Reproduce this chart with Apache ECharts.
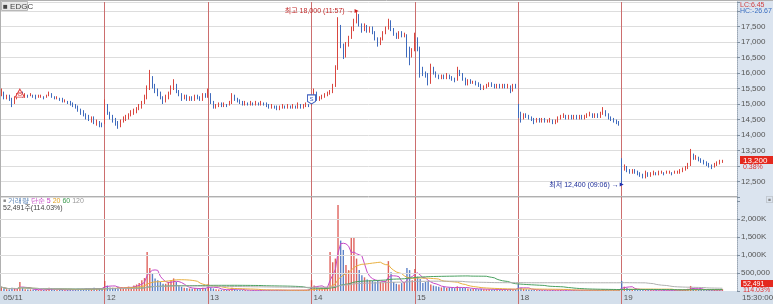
<!DOCTYPE html>
<html><head><meta charset="utf-8">
<script src="https://cdn.jsdelivr.net/npm/echarts@6/dist/echarts.min.js"></script>
<style>html,body{margin:0;padding:0;background:#fff}#c{width:773px;height:304px}</style>
</head><body><div id="c"></div>
<script>
const days = ['05/11','12','13','14','15','18','19'];
const slotsPerDay = 39;
const open = [
15300,15350,15200,15250,15150,15000,15200,15300,15350,15250,15300,15250,15300,15250,15200,15250,15250,15200,15250,15350,15250,15200,15200,15150,15100,15100,15050,15000,14950,14900,14800,14750,14650,14600,14500,14550,14400,14450,14350,
14400,14950,14700,14600,14500,14400,14300,14450,14500,14550,14650,14700,14750,14850,14900,15050,15200,15500,15800,15600,15450,15350,15200,15100,15200,15350,15500,15600,15400,15300,15200,15250,15150,15200,15150,15250,15200,15150,15300,
15250,15300,15050,14900,14950,15000,14950,15000,14950,15050,15300,15150,15100,15050,15000,15050,15000,15050,15000,15050,15000,15050,15000,14950,14900,14950,14900,14850,14900,14950,14900,14950,14900,14950,14900,15000,14900,14950,15000,
14950,15150,15400,15150,15200,15250,15300,15350,15400,15600,16150,17500,16900,16550,16900,17150,17400,17650,17850,17550,17400,17500,17350,17450,17300,17100,16950,17100,17300,17450,17650,17400,17250,17150,17300,17200,17250,16800,16550,
16750,17100,16800,16100,16000,15950,15650,16150,16000,15900,15850,15900,15850,15950,15850,15800,15750,16050,15950,15800,15650,15750,15700,15700,15650,15600,15500,15550,15600,15650,15600,15550,15600,15550,15600,15550,15600,15450,15600,
14900,14700,14550,14650,14600,14550,14500,14450,14500,14450,14500,14450,14450,14500,14400,14450,14550,14600,14650,14550,14600,14550,14600,14550,14600,14550,14600,14650,14700,14600,14650,14600,14700,14800,14650,14550,14500,14450,14400,
13100,12900,12950,12850,12800,12850,12800,12750,12700,12650,12800,12700,12750,12800,12750,12800,12800,12750,12800,12800,12750,12800,12800,12850,12900,12950,13050,13350,13250,13300,13200,13150,13100,13050,13000,12950,13050,13100,13150
];
const close = [
15350,15200,15250,15150,15000,15200,15300,15350,15250,15300,15250,15300,15250,15200,15250,15250,15200,15250,15350,15250,15200,15200,15150,15100,15100,15050,15000,14950,14900,14800,14750,14650,14600,14500,14550,14400,14450,14350,14300,
14950,14700,14600,14500,14400,14300,14450,14500,14550,14650,14700,14750,14850,14900,15050,15200,15500,15800,15600,15450,15350,15200,15100,15200,15350,15500,15600,15400,15300,15200,15250,15150,15200,15150,15250,15200,15150,15300,15250,
15300,15050,14900,14950,15000,14950,15000,14950,15050,15300,15150,15100,15050,15000,15050,15000,15050,15000,15050,15000,15050,15000,14950,14900,14950,14900,14850,14900,14950,14900,14950,14900,14950,14900,15000,14900,14950,15000,14950,
15150,15400,15150,15200,15250,15300,15350,15400,15600,16150,17500,16900,16550,16900,17150,17400,17650,17850,17550,17400,17500,17350,17450,17300,17100,16950,17100,17300,17450,17650,17400,17250,17150,17300,17200,17250,16800,16550,16700,
17100,16800,16100,16000,15950,15650,16150,16000,15900,15850,15900,15850,15950,15850,15800,15750,16050,15950,15800,15650,15750,15700,15700,15650,15600,15500,15550,15600,15650,15600,15550,15600,15550,15600,15550,15600,15450,15600,15550,
14700,14550,14650,14600,14550,14500,14450,14500,14450,14500,14450,14450,14500,14400,14450,14550,14600,14650,14550,14600,14550,14600,14550,14600,14550,14600,14650,14700,14600,14650,14600,14700,14800,14650,14550,14500,14450,14400,14350,
12900,12950,12850,12800,12850,12800,12750,12700,12650,12800,12700,12750,12800,12750,12800,12800,12750,12800,12800,12750,12800,12800,12850,12900,12950,13050,13350,13250,13300,13200,13150,13100,13050,13000,12950,13050,13100,13150,13200
];
const low = [
15250,15150,15150,15100,14900,15000,15150,15250,15200,15200,15200,15250,15200,15150,15200,15200,15150,15200,15250,15200,15150,15150,15100,15050,15050,15000,14950,14900,14850,14750,14650,14600,14500,14450,14400,14350,14300,14250,14250,
14350,14650,14500,14400,14300,14200,14250,14400,14450,14500,14600,14650,14700,14800,14850,15000,15150,15450,15500,15350,15250,15150,15000,15050,15150,15300,15450,15350,15250,15100,15150,15100,15100,15100,15100,15150,15100,15100,15200,
15200,15000,14850,14850,14900,14900,14900,14900,14950,15000,15100,15050,15000,14950,14950,14950,14950,14950,14950,14950,14950,14950,14900,14850,14850,14850,14800,14800,14850,14850,14850,14850,14850,14850,14850,14850,14850,14900,14900,
14950,15100,15100,15100,15150,15200,15250,15300,15350,15550,16100,16800,16450,16500,16850,17100,17350,17600,17500,17300,17350,17300,17300,17250,17050,16850,16900,17050,17250,17400,17350,17200,17100,17100,17150,17150,16500,16250,16500,
16700,16700,15850,15900,15850,15600,15650,15950,15850,15800,15800,15800,15800,15800,15750,15700,15750,15900,15750,15600,15600,15650,15650,15600,15550,15450,15450,15500,15550,15550,15500,15500,15500,15500,15500,15500,15350,15400,15500,
14550,14400,14500,14550,14500,14450,14350,14400,14400,14400,14400,14400,14400,14350,14350,14400,14500,14550,14500,14500,14500,14500,14500,14500,14500,14500,14550,14600,14550,14550,14550,14550,14650,14600,14500,14450,14400,14350,14300,
12400,12850,12800,12750,12750,12750,12700,12650,12600,12600,12650,12650,12700,12700,12700,12750,12700,12750,12750,12700,12750,12750,12750,12800,12850,12900,13000,13200,13200,13150,13100,13050,13000,12950,12900,12950,13000,13050,13100
];
const high = [
15500,15400,15300,15300,15200,15250,15350,15450,15400,15350,15300,15350,15300,15300,15300,15300,15250,15300,15400,15350,15250,15250,15200,15200,15150,15100,15100,15050,15000,14950,14850,14800,14700,14650,14600,14600,14500,14450,14400,
15150,15000,14750,14650,14550,14450,14500,14600,14650,14700,14800,14850,14900,15000,15100,15300,15600,16100,15900,15650,15500,15400,15250,15300,15400,15600,15800,15650,15450,15350,15300,15300,15250,15250,15300,15300,15250,15350,15350,
15500,15350,15100,15000,15050,15050,15050,15000,15100,15350,15300,15200,15150,15100,15100,15050,15100,15050,15100,15050,15100,15050,15050,15000,15000,14950,14950,14950,15000,14950,15000,14950,15000,14950,15050,15000,15000,15050,15000,
15200,15500,15400,15250,15300,15350,15400,15450,15650,16250,17800,17550,16950,17000,17200,17500,17750,18000,17900,17600,17600,17550,17500,17500,17350,17150,17150,17350,17500,17750,17700,17450,17300,17350,17350,17300,17250,16850,16800,
17300,17150,16850,16200,16050,16000,16300,16200,16050,15950,15950,15950,16000,15950,15900,15850,16200,16100,16000,15850,15800,15800,15750,15750,15700,15650,15600,15650,15700,15700,15650,15650,15650,15650,15650,15650,15600,15650,15650,
15000,14750,14700,14700,14650,14600,14550,14550,14550,14550,14550,14500,14550,14500,14500,14600,14650,14700,14650,14650,14650,14650,14650,14650,14650,14650,14700,14750,14700,14700,14700,14750,14900,14800,14700,14600,14550,14500,14450,
13250,13050,13000,12900,12900,12900,12850,12800,12750,12850,12800,12800,12850,12800,12850,12850,12800,12850,12850,12800,12850,12850,12900,12950,13000,13100,13550,13400,13350,13300,13250,13200,13150,13100,13050,13100,13150,13200,13200
];
const volume = [
110000,60000,50000,40000,90000,70000,60000,250000,80000,50000,40000,45000,35000,40000,30000,35000,30000,40000,90000,50000,35000,30000,40000,35000,30000,35000,40000,45000,40000,60000,55000,50000,70000,60000,50000,90000,60000,70000,80000,
280000,150000,100000,90000,80000,120000,90000,80000,100000,120000,110000,150000,180000,220000,300000,360000,1080000,640000,500000,350000,300000,250000,200000,200000,250000,300000,350000,250000,150000,120000,90000,80000,70000,60000,80000,70000,60000,90000,80000,
190000,100000,70000,50000,40000,35000,30000,30000,40000,90000,50000,35000,30000,25000,25000,20000,20000,25000,20000,20000,25000,20000,20000,25000,20000,20000,25000,20000,20000,25000,20000,20000,25000,20000,25000,20000,25000,30000,40000,
300000,150000,100000,80000,90000,100000,120000,1080000,800000,900000,2390000,1400000,1140000,720000,580000,1500000,1470000,900000,580000,440000,380000,320000,300000,280000,260000,300000,250000,230000,280000,830000,520000,250000,200000,180000,220000,250000,640000,580000,300000,
610000,400000,330000,220000,250000,280000,180000,150000,130000,120000,100000,110000,90000,100000,90000,80000,130000,100000,90000,80000,70000,60000,60000,55000,50000,60000,50000,45000,50000,45000,40000,45000,40000,40000,45000,40000,60000,50000,45000,
190000,90000,60000,50000,40000,35000,40000,30000,30000,25000,30000,25000,25000,30000,25000,30000,25000,20000,25000,20000,20000,25000,20000,20000,25000,20000,20000,25000,20000,20000,25000,20000,40000,30000,25000,20000,25000,20000,30000,
280000,120000,80000,60000,50000,45000,40000,35000,40000,30000,30000,25000,25000,30000,20000,20000,25000,20000,20000,20000,25000,20000,25000,30000,40000,60000,140000,80000,50000,40000,35000,30000,30000,25000,25000,30000,25000,30000,52491
];
const priceTickLabels = [12500,13500,14000,14500,15000,15500,16000,16500,17000,17500];
const volumeTickLabels = [500000,1000000,1500000,2000000];
const maPeriods = [5,20,60,120];
const maColors = ['#c64ac6','#e8b040','#4aa060','#b0b0b0'];

const UP = '#d9463f', DOWN = '#3f6bbd', SEP = '#cc6e6e', GRID = '#dddddd';
const FONT = 'Liberation Sans, Noto Sans CJK KR, sans-serif';
const nData = days.length * slotsPerDay;
const blankSlots = 5;
const cats = [];
days.forEach(d => { for (let j = 0; j < slotsPerDay; j++) cats.push(j === 0 ? d : d + '-' + j); });
for (let j = 0; j < blankSlots; j++) cats.push('blank-' + j);
[open, close, low, high, volume].forEach((a, k) => { if (a.length !== nData) throw new Error('len ' + k + ' ' + a.length); });

const candles = open.map((o, i) => [o, close[i], low[i], high[i]]);
const volData = volume.map((v, i) => ({ value: v, itemStyle: { color: close[i] >= open[i] ? UP : DOWN, opacity: 0.85 } }));
function movingAvg(n) {
  return volume.map((v, i) => { const s = Math.max(0, i - n + 1); let sum = 0; for (let k = s; k <= i; k++) sum += volume[k]; return Math.round(sum / (i - s + 1)); });
}
const fmt = v => v.toLocaleString('en-US');
const hiIdx = high.indexOf(Math.max(...high));
const loIdx = low.indexOf(Math.min(...low));
const dayStart = i => i > 0 && i % slotsPerDay === 0 && i < nData;
const dayStartCats = days.slice(1);
const sepLines = { silent: true, symbol: 'none', label: { show: false }, z: 1,
  lineStyle: { color: SEP, type: 'solid', width: 1 }, data: dayStartCats.map(c => ({ xAxis: c })) };

const chart = echarts.init(document.getElementById('c'), null, { renderer: 'canvas' });
function xAxisFor(gi, withLabels) {
  return {
    type: 'category', data: cats, boundaryGap: true, gridIndex: gi,
    axisLine: { show: false },
    splitLine: { show: false },
    axisTick: withLabels ? { show: true, alignWithLabel: true, interval: (i) => dayStart(i), length: 13, lineStyle: { color: SEP } } : { show: false },
    axisLabel: withLabels ? { show: true, interval: (i) => i % slotsPerDay === 0 && i < nData, formatter: v => v.split('-')[0],
        align: 'left', margin: 3, padding: [0, 0, 0, 2], fontSize: 8, color: '#555', fontFamily: FONT } : { show: false }
  };
}
chart.setOption({
  animation: false,
  textStyle: { fontFamily: FONT },
  grid: [
    { left: -1, right: 36, top: 2, height: 195 },
    { left: -1, right: 36, top: 197, height: 94 }
  ],
  xAxis: [ xAxisFor(0, false), xAxisFor(1, true) ],
  yAxis: [
    { type: 'value', gridIndex: 0, position: 'right', min: 12000, max: 18290, interval: 500, z: 0,
      splitLine: { show: true, lineStyle: { color: GRID } },
      axisLine: { show: true, lineStyle: { color: '#9aa6b4', type: 'dotted' } },
      axisTick: { show: true, length: 3, lineStyle: { color: '#8090a0' } },
      axisLabel: { margin: 4, fontSize: 8, color: '#555', fontFamily: FONT, formatter: v => priceTickLabels.includes(v) ? fmt(v) : '' } },
    { type: 'value', gridIndex: 1, position: 'right', min: 0, max: 2611000, interval: 500000,
      splitLine: { show: false },
      axisLine: { show: true, lineStyle: { color: '#9aa6b4', type: 'dotted' } },
      axisTick: { show: true, length: 3, lineStyle: { color: '#8090a0' } },
      axisLabel: { margin: 4, fontSize: 8, color: '#555', fontFamily: FONT,
        formatter: v => volumeTickLabels.includes(v) ? (v >= 1000000 ? fmt(v / 1000) + 'K' : fmt(v)) : '' } }
  ],
  series: [
    { type: 'candlestick', xAxisIndex: 0, yAxisIndex: 0, data: candles, barWidth: 1.2,
      itemStyle: { color: UP, color0: DOWN, borderColor: UP, borderColor0: DOWN, borderWidth: 1 },
      markLine: sepLines,
      markPoint: {
        silent: true,
        data: [
          { coord: [hiIdx, high[hiIdx]], symbol: 'triangle', symbolRotate: -90, symbolSize: 4, itemStyle: { color: '#d02020' },
            label: { show: true, position: 'left', distance: 1, formatter: '최고 ' + fmt(high[hiIdx]) + ' (11:57) →', color: '#c02828', fontSize: 7, fontFamily: FONT } },
          { coord: [loIdx, low[loIdx]], symbol: 'triangle', symbolRotate: -90, symbolSize: 4, itemStyle: { color: '#2030b0' },
            label: { show: true, position: 'left', distance: 1, formatter: '최저 ' + fmt(low[loIdx]) + ' (09:06) →', color: '#1c2c98', fontSize: 7, fontFamily: FONT } },
          { coord: [7, close[7]], symbol: 'triangle', symbolSize: [9, 8], itemStyle: { color: '#fff', borderColor: '#e04040', borderWidth: 1 },
            label: { show: true, position: 'inside', formatter: 'B', color: '#e04040', fontSize: 6, offset: [0, 1] } },
          { coord: [3 * slotsPerDay, close[3 * slotsPerDay]], symbol: 'path://M0,0 L10,0 L10,8 L5,11 L0,8 Z', symbolSize: [8, 9], itemStyle: { color: '#fff', borderColor: '#4060c0', borderWidth: 1 },
            label: { show: true, position: 'inside', formatter: 'S', color: '#4060c0', fontSize: 6 } }
        ]
      }
    },
    { type: 'bar', xAxisIndex: 1, yAxisIndex: 1, data: volData, barWidth: 1.4,
      markLine: { silent: true, symbol: 'none', label: { show: false }, lineStyle: { color: GRID, type: 'solid', width: 1 },
        data: volumeTickLabels.map(v => ({ yAxis: v })) } },
    { type: 'line', xAxisIndex: 1, yAxisIndex: 1, data: [], markLine: sepLines, z: 1 }
  ].concat(maPeriods.map((p, k) => ({
    type: 'line', xAxisIndex: 1, yAxisIndex: 1, data: movingAvg(p), showSymbol: false, symbol: 'none',
    lineStyle: { color: maColors[k], width: 1 }, z: 3
  }))),
  graphic: [
    { type: 'rect', shape: { x: 737, y: 0, width: 36, height: 291 }, style: { fill: '#dbe4ef' }, z: -10, silent: true },
    { type: 'rect', shape: { x: 0, y: 291, width: 773, height: 13 }, style: { fill: '#d4dfeb' }, z: -10, silent: true },
    { type: 'line', shape: { x1: 0, y1: 196.5, x2: 737, y2: 196.5 }, style: { stroke: '#b0b0b0', lineWidth: 1 }, z: 5, silent: true },
    { type: 'line', shape: { x1: 0, y1: 0.5, x2: 773, y2: 0.5 }, style: { stroke: '#b0b0b0', lineWidth: 1 }, z: 5, silent: true },
    { type: 'line', shape: { x1: 0.5, y1: 0, x2: 0.5, y2: 291 }, style: { stroke: '#b0b0b0', lineWidth: 1 }, z: 5, silent: true },
    { type: 'rect', shape: { x: 1.5, y: 1.5, width: 26, height: 9 }, style: { fill: '#e8e8e8', stroke: '#b8b8b8' }, z: 20, silent: true },
    { type: 'text', x: 3, y: 6.5, style: { text: '■ EDGC', fill: '#444', font: '8px ' + FONT, verticalAlign: 'middle' }, z: 21, silent: true },
    { type: 'text', x: 740, y: 5, style: { text: 'LC:6.45', fill: '#d04040', font: '7px ' + FONT, verticalAlign: 'middle' }, z: 21, silent: true },
    { type: 'text', x: 740, y: 11.5, style: { text: 'HC:-26.67', fill: '#3a6ec0', font: '7px ' + FONT, verticalAlign: 'middle' }, z: 21, silent: true },
    { type: 'rect', shape: { x: 740, y: 156, width: 33, height: 8 }, style: { fill: '#e4281e' }, z: 20, silent: true },
    { type: 'text', x: 743, y: 160.5, style: { text: fmt(close[nData - 1]), fill: '#fff', font: '8px ' + FONT, verticalAlign: 'middle' }, z: 21, silent: true },
    { type: 'text', x: 743, y: 167.5, style: { text: '0.38%', fill: '#e03030', font: '7px ' + FONT, verticalAlign: 'middle' }, z: 21, silent: true },
    { type: 'rect', shape: { x: 741, y: 280, width: 32, height: 7 }, style: { fill: '#e4281e' }, z: 20, silent: true },
    { type: 'text', x: 743, y: 284, style: { text: fmt(volume[nData - 1]), fill: '#fff', font: '7px ' + FONT, verticalAlign: 'middle' }, z: 21, silent: true },
    { type: 'text', x: 743, y: 290, style: { text: '114.03%', fill: '#e03030', font: '7px ' + FONT, verticalAlign: 'middle' }, z: 21, silent: true },
    { type: 'text', x: 742, y: 298, style: { text: '15:30:00', fill: '#555', font: '8px ' + FONT, verticalAlign: 'middle' }, z: 21, silent: true },
    { type: 'text', x: 766, y: 200.5, style: { text: '▣', fill: '#888', font: '7px ' + FONT, verticalAlign: 'middle' }, z: 21, silent: true },
    { type: 'text', x: 3, y: 201, style: {
        text: '{a|■} {b|거래량} {c|단순 5} {d|20} {e|60} {f|120}', font: '7px ' + FONT, verticalAlign: 'middle',
        rich: { a: { fill: '#888', fontSize: 5 }, b: { fill: '#4a78b0', fontSize: 7 }, c: { fill: '#c03cc0', fontSize: 7 }, d: { fill: '#e0a020', fontSize: 7 }, e: { fill: '#3c9a50', fontSize: 7 }, f: { fill: '#999', fontSize: 7 } } }, z: 21, silent: true },
    { type: 'text', x: 3, y: 208, style: { text: fmt(volume[nData - 1]) + '주(114.03%)', fill: '#444', font: '7px ' + FONT, verticalAlign: 'middle' }, z: 21, silent: true }
  ]
});
</script></body></html>
